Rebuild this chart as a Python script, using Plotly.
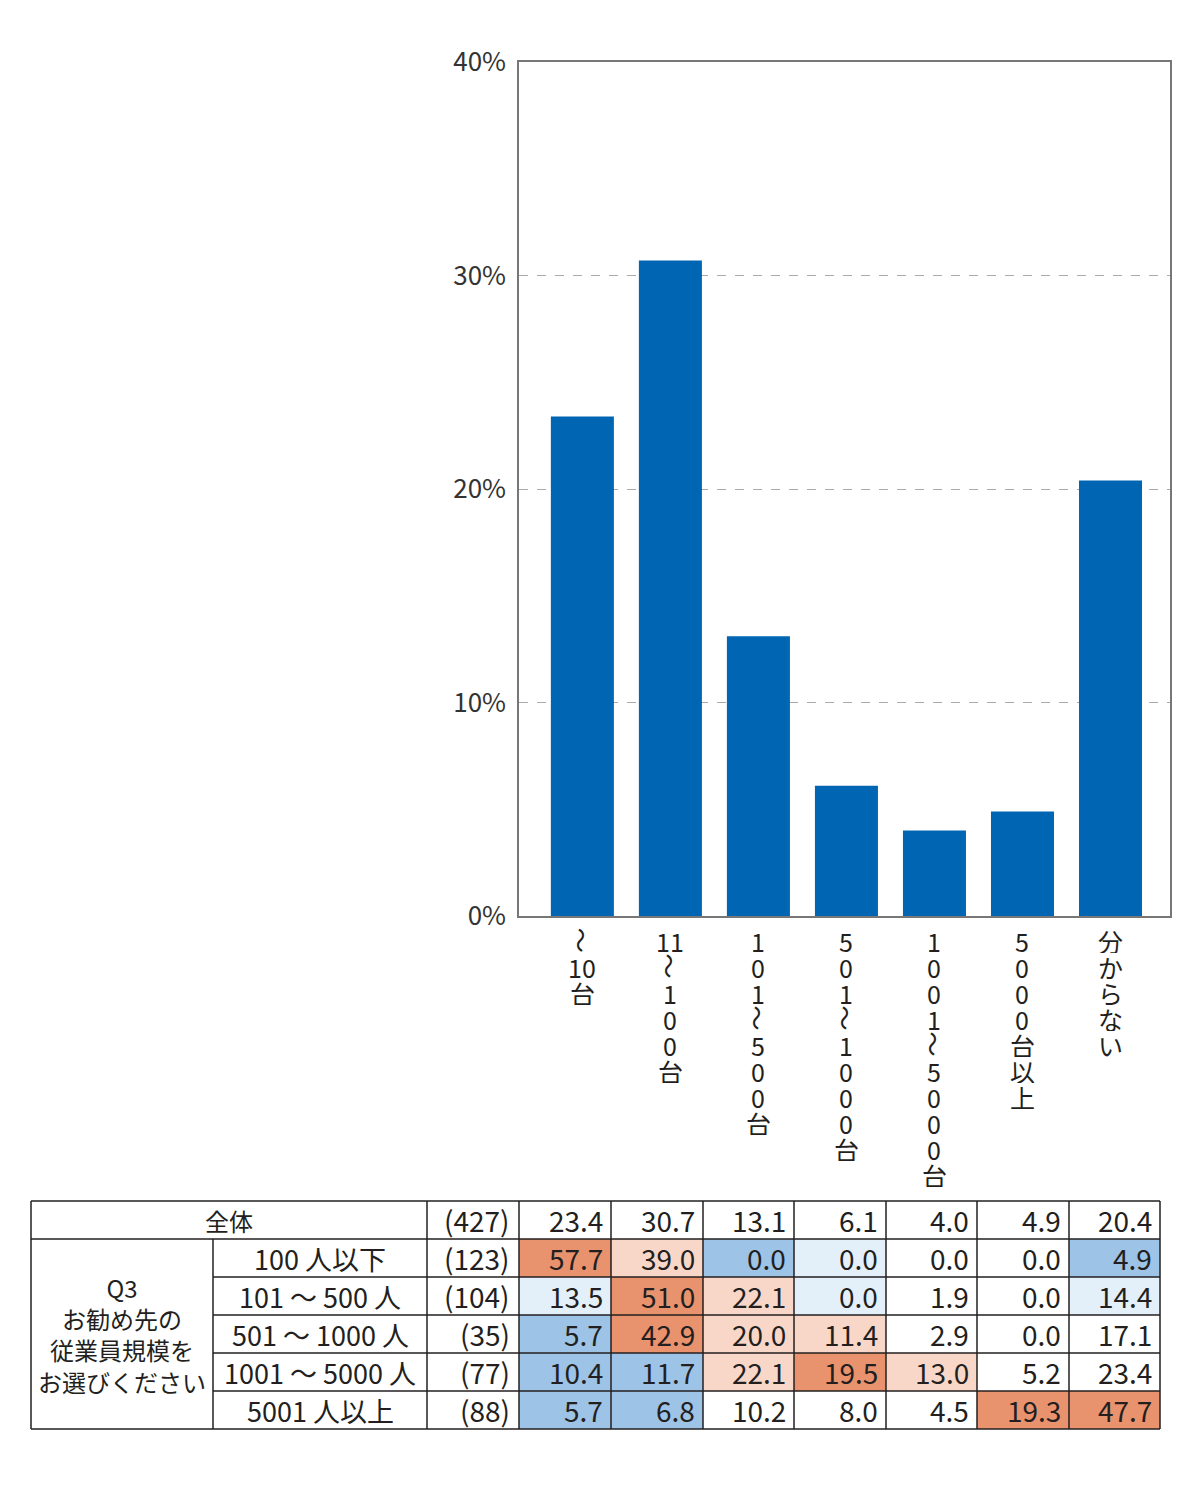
import plotly.graph_objects as go

# ---- data ----
cat_labels = [
    ["～", "10", "台"],
    ["11", "～", "1", "0", "0", "台"],
    ["1", "0", "1", "～", "5", "0", "0", "台"],
    ["5", "0", "1", "～", "1", "0", "0", "0", "台"],
    ["1", "0", "0", "1", "～", "5", "0", "0", "0", "台"],
    ["5", "0", "0", "0", "台", "以", "上"],
    ["分", "か", "ら", "な", "い"],
]
overall = [23.4, 30.7, 13.1, 6.1, 4.0, 4.9, 20.4]
overall_n = 427
y_ticks = [0, 10, 20, 30, 40]
y_ticktext = ["0%", "10%", "20%", "30%", "40%"]

group_title = "Q3<br>お勧め先の<br>従業員規模を<br>お選びください"
seg_labels = ["100 人以下", "101 ～ 500 人", "501 ～ 1000 人", "1001 ～ 5000 人", "5001 人以上"]
seg_n = [123, 104, 35, 77, 88]
seg_100 = [57.7, 39.0, 0.0, 0.0, 0.0, 0.0, 4.9]
seg_500 = [13.5, 51.0, 22.1, 0.0, 1.9, 0.0, 14.4]
seg_1000 = [5.7, 42.9, 20.0, 11.4, 2.9, 0.0, 17.1]
seg_5000 = [10.4, 11.7, 22.1, 19.5, 13.0, 5.2, 23.4]
seg_5001 = [5.7, 6.8, 10.2, 8.0, 4.5, 19.3, 47.7]
seg_rows = [seg_100, seg_500, seg_1000, seg_5000, seg_5001]

# ---- layout constants (pixels) ----
W, H = 1200, 1500
OFF = 8  # page body margin
FONT = "Noto Sans CJK JP"
TXT = "#231f20"
BAR = "#0066b3"


def px(x):
    return (x - OFF) / W


def py(y):
    return 1 - (y - OFF) / H


fig = go.Figure()
xs = list(range(len(overall)))
fig.add_trace(go.Bar(x=xs, y=overall, width=0.716, marker_color=BAR,
                     marker_line_width=0, hoverinfo="skip"))

annotations = []
# vertical category labels, one glyph per line; the wave dash is turned upright
for i, toks in enumerate(cat_labels):
    for k, t in enumerate(toks):
        annotations.append(dict(x=i, y=0, xref="x", yref="y", text=t, showarrow=False,
                                yanchor="middle", xanchor="center", yshift=-(24 + 26 * k),
                                textangle=90 if t == "～" else 0, height=25, borderpad=0,
                                font=dict(family=FONT, size=25, color=TXT)))

# ---- table ----
xe = [31, 213, 427, 519, 611, 703, 794, 886, 977, 1069, 1160]
ye = [1201, 1239, 1277, 1315, 1353, 1391, 1429]
DARK_O, LIGHT_O = "#e9926e", "#f9d7c8"
DARK_B, LIGHT_B = "#9dc3e6", "#e3f0fa"


def cell_color(v, base):
    d = v - base
    if d >= 10:
        return DARK_O
    if d >= 5:
        return LIGHT_O
    if d <= -10:
        return DARK_B
    if d <= -5:
        return LIGHT_B
    return None


shapes = []
for r, row in enumerate(seg_rows):
    for j, v in enumerate(row):
        c = cell_color(v, overall[j])
        if c:
            shapes.append(dict(type="rect", xref="paper", yref="paper", layer="below",
                               x0=px(xe[3 + j]), x1=px(xe[4 + j]),
                               y0=py(ye[r + 1]), y1=py(ye[r + 2]),
                               fillcolor=c, line_width=0))

LINE = dict(color="#231f20", width=1.5)


def hline(y, x0, x1):
    shapes.append(dict(type="line", xref="paper", yref="paper", x0=px(x0), x1=px(x1),
                       y0=py(y), y1=py(y), line=LINE))


def vline(x, y0, y1):
    shapes.append(dict(type="line", xref="paper", yref="paper", x0=px(x), x1=px(x),
                       y0=py(y0), y1=py(y1), line=LINE))


hline(ye[0], xe[0], xe[-1])
hline(ye[1], xe[0], xe[-1])
for y in ye[2:-1]:
    hline(y, xe[1], xe[-1])
hline(ye[-1], xe[0], xe[-1])
vline(xe[0], ye[0], ye[-1])
vline(xe[1], ye[1], ye[-1])
for x in xe[2:]:
    vline(x, ye[0], ye[-1])


def tbl_text(text, x, y, anchor, size=28):
    annotations.append(dict(x=px(x), y=py(y), xref="paper", yref="paper", text=text,
                            showarrow=False, xanchor=anchor, yanchor="middle",
                            font=dict(family=FONT, size=size, color=TXT)))


def row_mid(r):
    return (ye[r] + ye[r + 1]) / 2


tbl_text("全体", (xe[0] + xe[2]) / 2, row_mid(0), "center", 24)
tbl_text(f"({overall_n})", xe[3] - 7, row_mid(0), "right")
for j, v in enumerate(overall):
    tbl_text(f"{v:.1f}", xe[4 + j] - 6, row_mid(0), "right")

tbl_text(group_title, (xe[0] + xe[1]) / 2, (ye[1] + ye[-1]) / 2, "center", 24)
for r, lab in enumerate(seg_labels):
    tbl_text(lab, (xe[1] + xe[2]) / 2, row_mid(r + 1), "center", 27)
    tbl_text(f"({seg_n[r]})", xe[3] - 7, row_mid(r + 1), "right")
    for j, v in enumerate(seg_rows[r]):
        tbl_text(f"{v:.1f}", xe[4 + j] - 6, row_mid(r + 1), "right")

fig.update_layout(
    width=W, height=H, autosize=False,
    margin=dict(l=0, r=0, t=0, b=0, pad=0, autoexpand=False),
    paper_bgcolor="white", plot_bgcolor="white",
    showlegend=False,
    xaxis=dict(domain=[px(519), px(1170)], range=[-0.72, 6.676], automargin=False,
               showticklabels=False, showgrid=False, zeroline=False, ticks="",
               showline=True, mirror=True, linecolor="#777", linewidth=1.5, fixedrange=True),
    yaxis=dict(domain=[py(916), py(62)], range=[0, 40], automargin=False,
               tickvals=y_ticks, ticktext=y_ticktext, ticks="", ticklabelstandoff=6,
               tickfont=dict(family=FONT, size=26, color="#333"),
               showgrid=True, gridcolor="#aaa", griddash="dash", gridwidth=1,
               zeroline=False, showline=True, mirror=True, linecolor="#777",
               linewidth=1.5, fixedrange=True),
    shapes=shapes,
    annotations=annotations,
)

fig.write_html("out.html")
